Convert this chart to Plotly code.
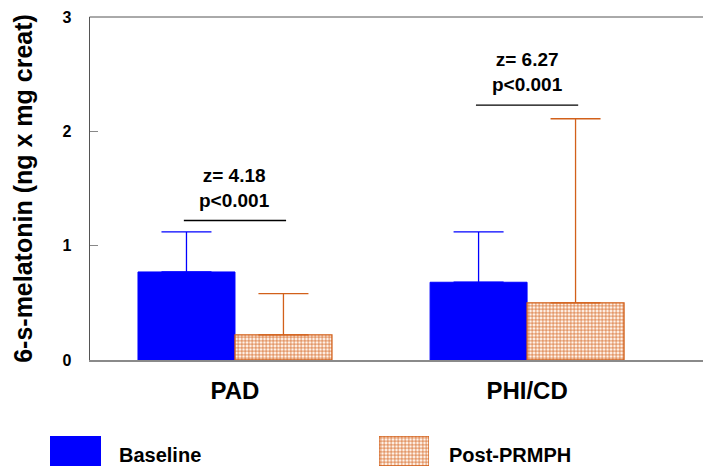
import plotly.graph_objects as go

categories = ["PAD", "PHI/CD"]
baseline = [0.77, 0.68]
baseline_err = [0.35, 0.44]
post = [0.22, 0.50]
post_err = [0.36, 1.61]
ann_text = ["z= 4.18<br>p&lt;0.001", "z= 6.27<br>p&lt;0.001"]
ann_line_y = [1.22, 2.23]
y_ticks = [0, 1, 2, 3]
legend_names = ["Baseline", "Post-PRMPH"]

BLUE = "#0000ff"
ORANGE = "#d2601a"
PEACH = "#f7d6bd"
FONT = "Liberation Sans, Arial"

# page body has an 8px margin: figure occupies page pixels 8..711 x 8..466
OFF = 8
PAGE_W, PAGE_H = 711, 466
W, H = PAGE_W - OFF, PAGE_H - OFF


def px(x):
    return (x - OFF) / W


def py(y):
    return (PAGE_H - y) / H


post_marker = dict(color=PEACH, line=dict(color=ORANGE, width=1.3),
                   pattern=dict(shape="+", fgcolor=ORANGE, bgcolor="#fff4ec", size=3.5,
                                solidity=0.35, fillmode="replace"))
base_marker = dict(color=BLUE, line=dict(color=BLUE, width=1))

fig = go.Figure()
fig.add_trace(go.Bar(
    x=categories, y=baseline, name=legend_names[0], marker=base_marker,
    error_y=dict(type="data", array=baseline_err, arrayminus=[0, 0], symmetric=False,
                 color=BLUE, thickness=1.3, width=25),
    showlegend=False,
))
fig.add_trace(go.Bar(
    x=categories, y=post, name=legend_names[1], marker=post_marker,
    error_y=dict(type="data", array=post_err, arrayminus=[0, 0], symmetric=False,
                 color=ORANGE, thickness=1.3, width=25),
    showlegend=False,
))

# legend swatches as small inset axes
fig.add_trace(go.Bar(x=[0], y=[1], width=[1], xaxis="x2", yaxis="y2",
                     marker=base_marker, showlegend=False, hoverinfo="skip"))
fig.add_trace(go.Bar(x=[0], y=[1], width=[1], xaxis="x3", yaxis="y3",
                     marker=post_marker, showlegend=False, hoverinfo="skip"))

x0p, x1p = px(89.5), px(707)
y0p, y1p = py(360), py(17)

annotations = []
shapes = []
for i, (t, ly) in enumerate(zip(ann_text, ann_line_y)):
    shapes.append(dict(type="line", xref="x", yref="y", x0=i - 0.175, x1=i + 0.175, y0=ly, y1=ly,
                       line=dict(color="black", width=1.3)))
    annotations.append(dict(xref="x", yref="y", x=i, y=ly + 0.07, text="<b>" + t + "</b>",
                            showarrow=False, yanchor="bottom", align="center",
                            font=dict(size=19, color="black", family=FONT)))

for name, xl in zip(legend_names, [117, 447]):
    annotations.append(dict(xref="paper", yref="paper", x=px(xl), y=py(455), text=f"<b>{name}</b>",
                            showarrow=False, xanchor="left", yanchor="middle",
                            font=dict(size=20, color="black", family=FONT)))

fig.update_layout(
    width=W, height=H,
    margin=dict(l=0, r=0, t=0, b=0),
    paper_bgcolor="white", plot_bgcolor="white",
    barmode="group", bargap=0.336, bargroupgap=0,
    font=dict(family=FONT, color="black"),
    xaxis=dict(domain=[x0p, x1p], range=[-0.498, 1.616], showgrid=False, automargin=False,
               showline=True, linecolor="#8a8a8a", linewidth=1.5, mirror=False, ticks="",
               tickfont=dict(size=24, family=FONT, color="black"),
               ticktext=["<b>PAD</b>", "<b>PHI/CD</b>"], tickvals=categories, ticklabelstandoff=8),
    yaxis=dict(domain=[y0p, y1p], range=[0, 3], showgrid=False, automargin=False, zeroline=False,
               showline=True, linecolor="#555555", linewidth=1, mirror=False,
               ticks="inside", ticklen=8, tickcolor="#888888", tickwidth=1,
               tickvals=y_ticks, ticktext=[f"<b>{v}</b>" for v in y_ticks],
               tickfont=dict(size=16, family=FONT, color="black"),
               ticklabelstandoff=14,
               title=dict(text="<b>6-s-melatonin (ng x mg creat)</b>", standoff=22,
                          font=dict(size=25, family=FONT, color="black"))),
    xaxis2=dict(domain=[px(50), px(101)], range=[-0.5, 0.5], visible=False, fixedrange=True),
    yaxis2=dict(domain=[0, py(436)], range=[0, 1], visible=False, fixedrange=True),
    xaxis3=dict(domain=[px(379), px(429)], range=[-0.5, 0.5], visible=False, fixedrange=True),
    yaxis3=dict(domain=[0, py(436)], range=[0, 1], visible=False, fixedrange=True),
    annotations=annotations,
    shapes=shapes + [
        dict(type="line", xref="paper", yref="paper", x0=x0p, x1=x1p, y0=y1p, y1=y1p,
             line=dict(color="#555555", width=1)),
        dict(type="line", xref="paper", yref="paper", x0=x1p, x1=x1p, y0=y0p, y1=y1p,
             line=dict(color="#555555", width=1)),
    ],
)

fig.write_html("out.html")
